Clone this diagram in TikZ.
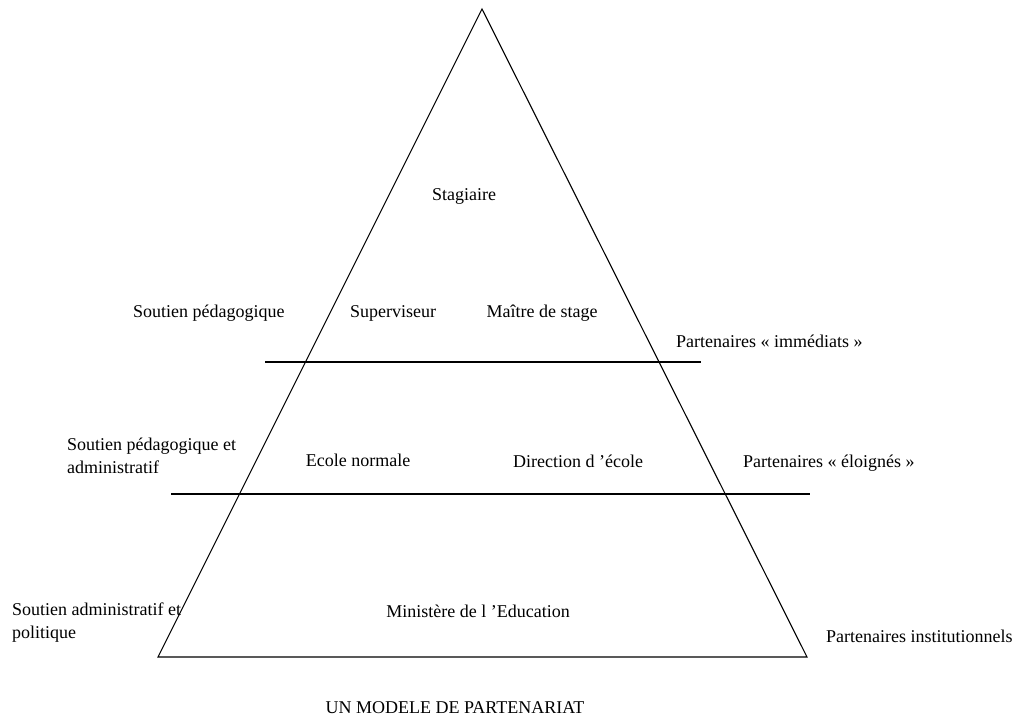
\documentclass[tikz,border=0pt]{standalone}
\usepackage{fontspec}
\setmainfont{Liberation Serif}
\usepackage{tikz}

\begin{document}
\begin{tikzpicture}[
      x=1pt, y=-1pt,
      % Styling nodes
      label/.style={
        inner sep=0pt,
        font=\fontsize{18}{23}\selectfont
      },
      side/.style={label, anchor=base west, align=left},
      inside/.style={label, anchor=base},
      rule/.style={line width=1.1pt}
    ]
    \useasboundingbox (0,0) rectangle (1016,718);

    % Pyramid corners
    \coordinate (apex) at (482,9);
    \coordinate (bleft) at (158,657);
    \coordinate (bright) at (807,657);

    % Level separators
    \coordinate (upleft) at (265,362);
    \coordinate (upright) at (701,362);
    \coordinate (lowleft) at (171,494);
    \coordinate (lowright) at (810,494);

    \draw[rule] (apex) -- (bleft) -- (bright) -- cycle;
    \draw[rule] (upleft) -- (upright);
    \draw[rule] (lowleft) -- (lowright);

    % Top level
    \node (stag) [inside] at (464,200) {Stagiaire};
    \node (sup) [inside] at (393,317) {Superviseur};
    \node (mds) [inside] at (542,317) {Maître de stage};
    \node (sped) [side] at (133,317) {Soutien pédagogique};
    \node (pimm) [side] at (676,347) {Partenaires « immédiats »};

    % Middle level (multi-line nodes sit on their last line)
    \node (ecole) [inside] at (358,466) {Ecole normale};
    \node (dir) [inside] at (578,467) {Direction d 'école};
    \node (spedadm) [side] at (67,473) {Soutien pédagogique et\\administratif};
    \node (pelo) [side] at (743,467) {Partenaires « éloignés »};

    % Bottom level
    \node (min) [inside] at (478,617) {Ministère de l 'Education};
    \node (sadm) [side] at (12,638) {Soutien administratif et\\politique};
    \node (pinst) [side] at (826,642) {Partenaires institutionnels};

    % Caption
    \node (title) [inside] at (455,713) {UN MODELE DE PARTENARIAT};

  \end{tikzpicture}
\end{document}
